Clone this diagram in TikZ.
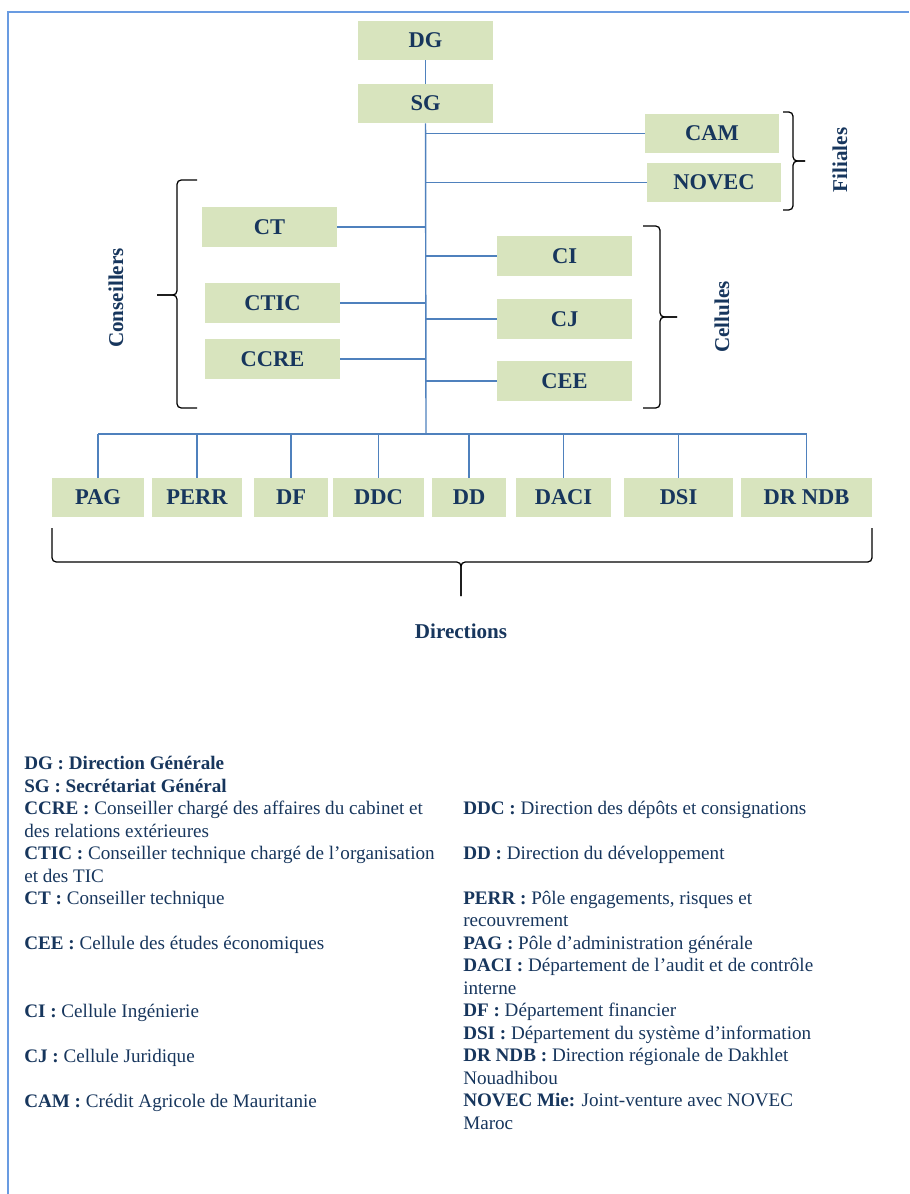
\documentclass[tikz,border=0pt]{standalone}
\usepackage{fontspec}
\setmainfont{Liberation Serif}
\usetikzlibrary{calc}
\definecolor{boxgreen}{RGB}{216,228,190}
\definecolor{navy}{RGB}{23,54,93}
\definecolor{linkblue}{RGB}{79,129,189}
\definecolor{frameblue}{RGB}{105,155,225}
\tikzstyle{unit box} = [rectangle,fill=boxgreen,text=navy,inner sep=0,minimum height=0.975cm,font=\fontsize{16}{18}\selectfont\bfseries]
\tikzstyle{group label} = [text=navy,inner sep=0,font=\fontsize{15}{18}\selectfont\bfseries]

\begin{document}
\begin{tikzpicture}[x=0.025cm, y=-0.025cm,
                    wd/.style={minimum width=#1*0.025cm},
                    link/.style={draw=linkblue, line width=1pt},
                    curly/.style={draw=black, line width=0.9pt, rounded corners=3pt},
                    legend/.style={text=navy, font=\fontsize{13.6}{16}\selectfont, align=left, anchor=base west, inner sep=0}
                    ]
\useasboundingbox (0,0) rectangle (909,1194);
\draw[frameblue, line width=1.2pt] (909,12) -- (8,12) -- (8,1194);

    % direction et filiales
    \node[unit box, wd=135] (DG) at (425.5,40.5) {DG};
    \node[unit box, wd=135] (SG) at (425.5,103.5) {SG};
    \node[unit box, wd=134] (CAM) at (712,133.5) {CAM};
    \node[unit box, wd=134] (NOVEC) at (714,182.5) {NOVEC};

    % conseillers et cellules
    \node[unit box, wd=135] (CT) at (269.5,227) {CT};
    \node[unit box, wd=135] (CTIC) at (272.5,303) {CTIC};
    \node[unit box, wd=135] (CCRE) at (272.5,359) {CCRE};
    \node[unit box, wd=135] (CI) at (564.5,256) {CI};
    \node[unit box, wd=135] (CJ) at (564.5,319) {CJ};
    \node[unit box, wd=135] (CEE) at (564.5,381) {CEE};

    % directions
    \foreach \name/\lab/\x/\w in {PAG/PAG/98/92, PERR/PERR/197/90, DF/DF/291/74, DDC/DDC/378.5/91,
                                  DD/DD/469/74, DACI/DACI/563.5/95, DSI/DSI/678.5/109, DRNDB/DR NDB/806.5/131}
        \node[unit box, wd=\w] (\name) at (\x,497.5) {\lab};

    \coordinate (bus) at (426,434);
    \draw[link] (DG) -- (SG);
    \draw[link] (SG) -- (bus);
    \foreach \name in {CAM,NOVEC,CI,CJ,CEE}
        \draw[link] (SG |- \name.west) -- (\name.west);
    \foreach \name in {CT,CTIC,CCRE}
        \draw[link] (\name.east) -- (SG |- \name.east);
    \draw[link] (PAG |- bus) -- (DRNDB |- bus);
    \foreach \name in {PAG,PERR,DF,DDC,DD,DACI,DSI,DRNDB}
        \draw[link] (\name |- bus) -- (\name.north);

    % accolades
    \draw[curly] (783,112) -- (793,112) -- (793,161) -- (805,161);
    \draw[curly] (783,210) -- (793,210) -- (793,161) -- (805,161);
    \draw[curly] (197,180) -- (177,180) -- (177,295) -- (157,295);
    \draw[curly] (197,408) -- (177,408) -- (177,295) -- (157,295);
    \draw[curly] (643,226) -- (660,226) -- (660,317) -- (677,317);
    \draw[curly] (643,408) -- (660,408) -- (660,317) -- (677,317);
    \draw[curly] (52,528) -- (52,562) -- (461,562) -- (461,596);
    \draw[curly] (872,528) -- (872,562) -- (461,562) -- (461,596);

    \node[group label, rotate=90] (filiales) at (840,160) {Filiales};
    \node[group label, rotate=90] (conseillers) at (116,298) {Conseillers};
    \node[group label, rotate=90] (cellules) at (722,317) {Cellules};
    \node[group label] (directions) at (461,631) {Directions};

    % legende (ancre sur la derniere ligne)
    \node[legend] (legLeft) at (24,1107) {\textbf{DG : Direction Générale}\\
        \textbf{SG : Secrétariat Général}\\
        \textbf{CCRE :} Conseiller chargé des affaires du cabinet et\\
        des relations extérieures\\
        \textbf{CTIC :} Conseiller technique chargé de l’organisation\\
        et des TIC\\
        \textbf{CT :} Conseiller technique\\[16pt]
        \textbf{CEE :} Cellule des études économiques\\[32pt]
        \textbf{CI :} Cellule Ingénierie\\[16pt]
        \textbf{CJ :} Cellule Juridique\\[16pt]
        \textbf{CAM :} Crédit Agricole de Mauritanie};
    \node[legend] (legRight) at (463,1129) {\textbf{DDC :} Direction des dépôts et consignations\\[16pt]
        \textbf{DD :} Direction du développement\\[16pt]
        \textbf{PERR :} Pôle engagements, risques et\\
        recouvrement\\
        \textbf{PAG :} Pôle d’administration générale\\
        \textbf{DACI :} Département de l’audit et de contrôle\\
        interne\\
        \textbf{DF :} Département financier\\
        \textbf{DSI :} Département du système d’information\\
        \textbf{DR NDB :} Direction régionale de Dakhlet\\
        Nouadhibou\\
        \textbf{NOVEC Mie:} Joint-venture avec NOVEC\\
        Maroc};

\end{tikzpicture}
\end{document}
